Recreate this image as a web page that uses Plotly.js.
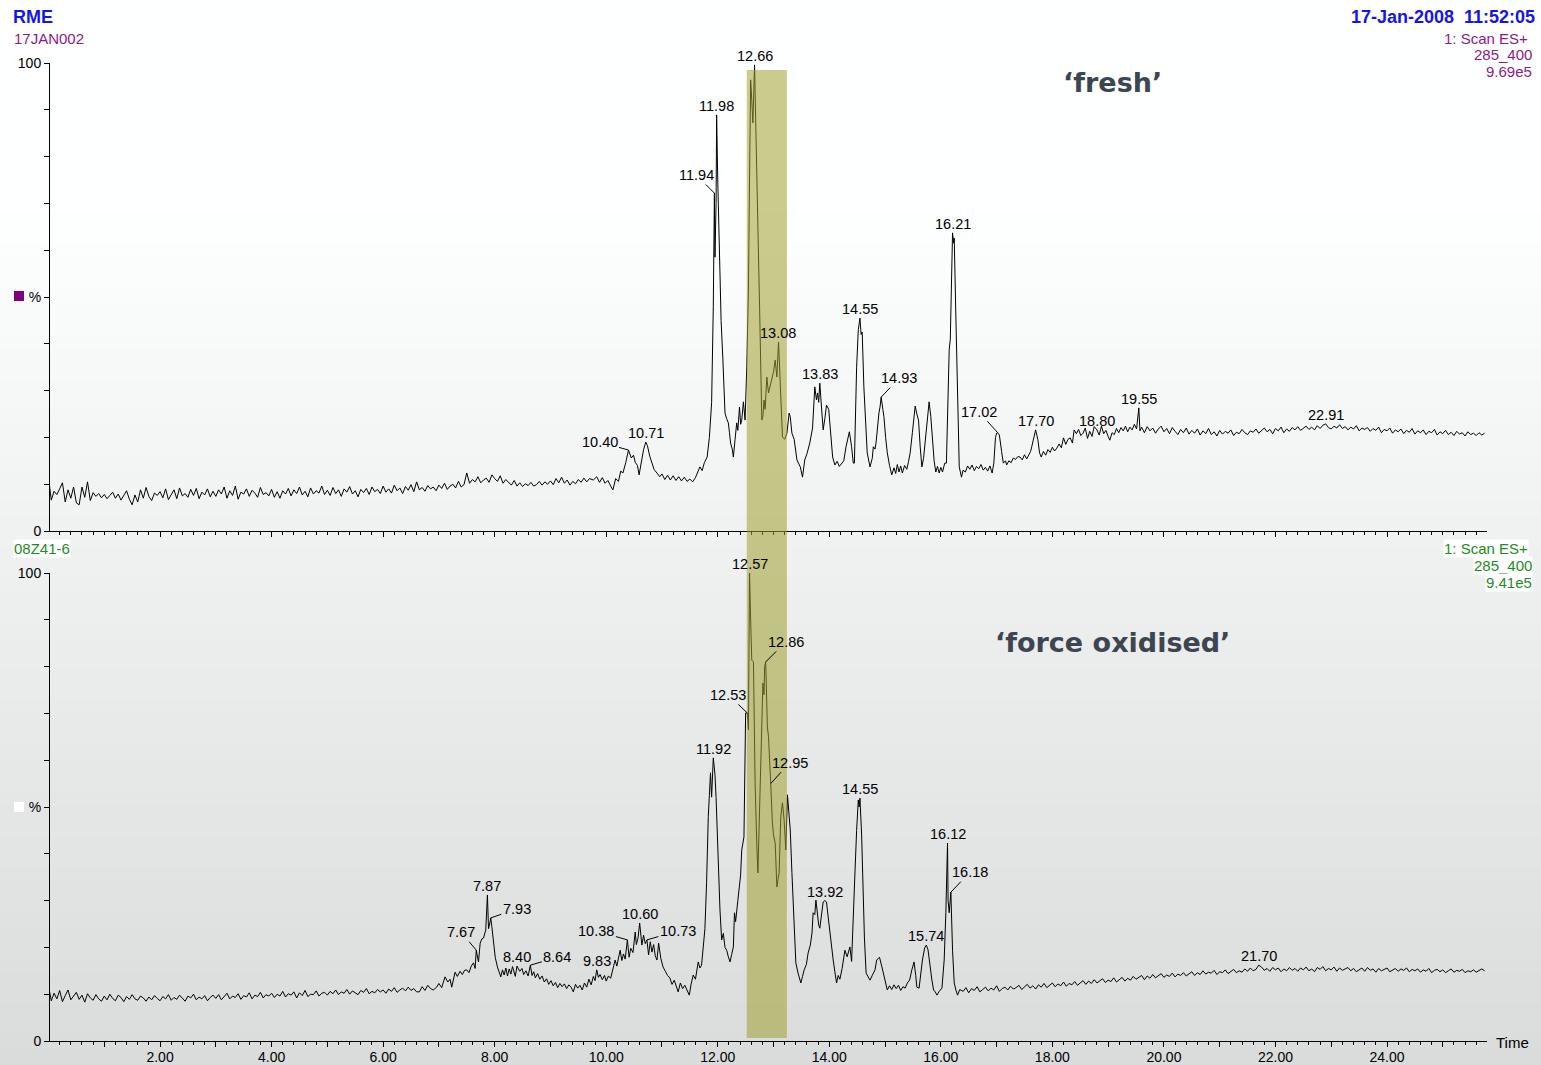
<!DOCTYPE html>
<html><head><meta charset="utf-8">
<script src="https://cdn.plot.ly/plotly-3.0.1.min.js"></script>
<style>html,body{margin:0;padding:0;background:#fff}#chart{width:1541px;height:1065px}</style>
</head><body><div id="chart"></div>
<script>
// ---------------- DATA ----------------
// 'fresh' chromatogram (17JAN002), % intensity
const freshScanStart = 0.00, scanStep = 0.05;
const freshScanA = [
11.5,6.6,8.5,7.8,9.0,10.3,6.2,8.8,7.0,9.4,6.0,5.6,9.4,7.2,10.5,6.5,8.2,7.4,8.0,7.1,
7.8,6.9,7.6,8.3,7.0,7.9,6.6,7.5,8.6,6.8,5.6,7.7,6.2,8.8,7.0,9.3,7.4,6.5,8.1,7.6,
8.4,7.1,9.0,6.7,7.9,8.8,6.9,9.2,7.5,8.0,7.2,8.9,7.6,9.1,6.9,8.3,7.7,9.0,7.3,8.5,
7.4,8.8,7.9,9.4,7.0,8.6,7.6,9.6,6.8,8.3,7.9,9.0,7.4,8.7,8.1,7.2,9.3,7.8,8.2,7.5,
8.9,7.2,8.4,7.0,8.6,7.9,9.1,7.5,8.8,8.0,9.4,7.7,8.5,7.3,9.2,7.9,8.6,8.1,9.6,7.8,
8.7,7.6,9.3,8.0,8.8,7.4,9.0,8.3,9.5,7.9,8.6,7.3,8.9,8.2,9.1,7.8,9.4,8.4,8.9,8.0,
9.6,8.3,9.0,8.1,9.8,8.6,9.2,8.0,9.5,8.7,9.9,8.4,10.5,8.8,9.3,8.5,9.7,9.0,9.4,8.6,
9.8,9.1,10.2,8.9,9.6,10.0,9.2,10.6,9.4,9.9,12.4,10.2,11.0,10.5,11.6,10.3,10.9,11.3,10.4,12.0,
11.2,10.6,11.8,10.2,11.0,10.5,9.8,10.8,9.6,10.3,9.5,10.1,9.7,10.4,9.6,9.9,10.6,9.8,10.5,10.0,
10.7,9.9,11.2,10.3,11.5];
// [time, %] pairs, peak region
const freshPeakPairs = [
9.25,10.2, 9.30,10.9, 9.35,9.8, 9.40,10.6, 9.45,10.1, 9.50,11.0, 9.55,10.4, 9.60,11.3, 9.65,10.5, 9.70,11.2,
9.77,10.9, 9.83,11.6, 9.88,10.4, 9.93,11.4, 9.98,10.2, 10.03,10.8, 10.08,9.6, 10.12,8.8, 10.17,11.2, 10.22,10.6,
10.26,12.8, 10.30,12.4, 10.35,14.6, 10.40,17.3, 10.45,15.6, 10.49,16.2, 10.52,14.7, 10.56,14.0, 10.59,12.0, 10.63,14.8,
10.67,17.4, 10.71,19.0, 10.74,18.2, 10.78,16.0, 10.82,14.5, 10.86,13.1, 10.91,12.4, 10.96,11.6, 11.00,12.2, 11.05,11.0,
11.10,11.9, 11.15,10.9, 11.20,11.8, 11.25,10.8, 11.30,11.6, 11.35,10.7, 11.40,11.5, 11.45,10.6, 11.50,11.1, 11.55,10.5,
11.60,11.4, 11.65,12.8, 11.68,13.7, 11.72,12.9, 11.76,14.6, 11.81,15.8, 11.85,20.0, 11.89,27.4, 11.92,47.9, 11.94,72.2,
11.95,58.5, 11.97,70.0, 11.98,88.9, 12.00,75.0, 12.03,57.9, 12.06,45.0, 12.09,37.2, 12.13,25.2, 12.16,24.0, 12.19,23.1,
12.21,21.0, 12.23,18.8, 12.26,17.5, 12.28,15.8, 12.31,19.5, 12.34,23.1, 12.36,21.5, 12.39,26.5, 12.41,22.8, 12.43,23.7,
12.46,27.6, 12.49,23.7, 12.52,35.0, 12.55,51.5, 12.57,75.0, 12.59,96.4, 12.61,92.0, 12.63,87.2, 12.66,99.6, 12.68,90.0,
12.70,76.5, 12.72,65.0, 12.75,47.9, 12.77,35.0, 12.79,23.7, 12.81,24.5, 12.83,28.0, 12.85,26.0, 12.88,32.9, 12.91,29.5,
12.94,31.0, 12.97,32.3, 13.00,34.0, 13.03,36.5, 13.06,32.9, 13.09,40.4, 13.12,30.0, 13.16,20.1, 13.20,19.6, 13.24,20.9,
13.28,25.2, 13.30,24.4, 13.33,20.9, 13.37,19.6, 13.42,15.2, 13.48,13.7, 13.52,11.5, 13.56,15.2, 13.60,16.5, 13.65,18.8,
13.70,22.0, 13.74,30.8, 13.77,28.0, 13.79,29.5, 13.81,27.5, 13.83,31.6, 13.86,26.5, 13.89,21.6, 13.92,24.0, 13.95,26.9,
13.99,26.0, 14.02,21.0, 14.06,15.8, 14.10,14.1, 14.14,14.9, 14.18,13.8, 14.22,14.5, 14.26,15.0, 14.30,18.0, 14.34,20.5,
14.36,21.2, 14.40,18.0, 14.43,14.5, 14.45,14.5, 14.49,35.0, 14.52,43.0, 14.55,45.5, 14.57,42.0, 14.59,42.5, 14.62,30.8,
14.66,20.0, 14.68,16.7, 14.73,13.7, 14.77,15.5, 14.79,18.0, 14.82,17.5, 14.84,19.0, 14.87,23.0, 14.89,25.2, 14.91,26.5,
14.93,28.6, 14.96,26.0, 14.98,24.4, 15.01,20.0, 15.04,16.7, 15.08,14.0, 15.12,12.0, 15.16,13.5, 15.19,12.3, 15.22,14.2,
15.25,12.6, 15.28,13.9, 15.31,12.4, 15.35,14.0, 15.39,13.2, 15.42,14.8, 15.45,16.7, 15.49,21.0, 15.52,25.5, 15.54,26.7,
15.57,25.0, 15.60,23.7, 15.63,18.0, 15.66,13.7, 15.69,15.5, 15.72,19.4, 15.75,22.0, 15.79,27.6, 15.82,24.5, 15.85,19.4,
15.88,15.0, 15.91,12.6, 15.94,13.8, 15.97,12.4, 16.00,13.6, 16.03,12.6, 16.07,14.5, 16.10,14.5, 16.13,28.0, 16.15,38.7,
16.17,41.0, 16.19,51.5, 16.21,63.7, 16.23,61.5, 16.24,62.6, 16.27,45.7, 16.30,28.0, 16.33,13.7, 16.37,11.5, 16.40,13.0,
16.44,12.6, 16.48,13.9, 16.52,13.2, 16.56,14.1, 16.60,12.9, 16.64,13.8, 16.68,13.3, 16.72,14.2, 16.76,13.0, 16.80,13.6,
16.84,12.8, 16.88,13.9, 16.92,12.4, 16.95,14.5, 16.98,20.0, 17.00,20.9, 17.02,21.0, 17.05,20.5, 17.09,17.0, 17.12,14.5,
17.16,15.0, 17.18,14.1, 17.22,15.0, 17.26,14.6, 17.30,15.6, 17.34,15.3, 17.38,15.9, 17.42,15.8, 17.46,15.2, 17.50,16.3,
17.54,15.4, 17.57,16.0, 17.61,17.0, 17.63,18.0, 17.67,20.0, 17.70,21.6, 17.74,19.5, 17.77,16.7, 17.80,15.8, 17.84,17.0,
17.88,16.2, 17.92,17.4, 17.96,16.8, 18.00,17.9, 18.04,17.1, 18.08,17.7, 18.12,18.6, 18.16,17.8, 18.20,19.9, 18.24,18.5,
18.28,19.6, 18.32,19.9, 18.36,18.8, 18.39,21.6, 18.43,20.8, 18.47,21.7, 18.51,20.4, 18.55,20.9, 18.59,22.0, 18.63,19.8,
18.67,21.3, 18.71,20.2, 18.75,22.3, 18.80,21.6, 18.84,20.5, 18.88,22.4, 18.92,20.8, 18.96,21.5, 19.00,20.2, 19.03,19.4,
19.07,21.0, 19.11,20.6, 19.15,21.9, 19.19,21.0, 19.23,22.1, 19.27,21.4, 19.31,22.4, 19.35,21.2, 19.39,22.2, 19.43,21.6,
19.47,22.8, 19.51,21.8, 19.55,26.3, 19.57,21.4, 19.60,22.2];
const freshScanCStart = 19.65;
const freshScanC = [
21.0,22.3,21.4,22.0,20.9,21.8,22.4,21.2,21.9,20.8,22.1,21.3,20.6,21.7,21.0,22.0,20.7,21.5,20.9,21.8,
20.5,21.4,20.8,21.9,20.6,21.2,20.3,21.5,20.7,21.3,20.9,21.6,20.4,21.1,20.8,21.7,21.0,20.6,21.4,21.1,
21.8,20.9,21.5,22.0,21.2,21.7,20.8,21.9,21.4,22.2,21.0,21.8,21.3,22.1,21.6,22.3,21.5,21.9,22.4,21.7,
22.2,21.6,22.5,21.9,22.6,22.9,22.1,21.8,22.4,22.0,22.7,21.9,22.3,21.6,22.2,21.8,22.5,21.4,22.0,21.7,
22.1,21.3,21.9,21.5,22.2,21.0,21.7,21.4,22.0,20.9,21.6,21.2,21.8,20.8,21.5,21.1,21.9,20.7,21.4,21.0,
21.6,20.6,21.3,21.0,21.7,20.5,21.2,20.8,21.5,20.6,21.1,20.4,21.3,20.7,21.0,20.3,21.2,20.6,20.9,20.4,
21.0,20.5,20.9];

// 'force oxidised' chromatogram (08Z41-6), % intensity
const oxScanA = [
11.8,8.6,10.2,9.0,10.8,8.4,9.7,10.9,8.8,9.5,10.4,8.9,9.8,8.3,10.1,9.2,8.7,9.9,9.0,8.5,
9.6,8.8,10.0,9.1,8.6,9.8,9.3,8.4,9.5,8.9,9.9,9.0,8.7,9.6,9.2,8.5,9.4,8.8,9.7,9.1,
8.6,9.5,9.0,9.9,8.7,9.3,8.9,9.8,9.1,8.5,9.6,9.2,10.0,8.8,9.4,9.0,9.7,8.6,9.3,9.8,
9.1,9.9,8.8,9.5,10.2,9.0,9.6,9.3,10.1,8.9,9.7,9.4,10.3,9.0,9.8,9.5,10.4,9.2,9.9,9.6,
10.2,9.3,10.0,9.6,10.6,9.4,10.1,9.8,10.5,9.2,10.3,9.7,10.8,9.5,10.0,9.9,10.7,9.6,10.2,10.4,
9.8,10.6,10.1,10.9,9.9,10.5,10.2,11.0,10.0,10.7,10.3,9.9,10.8,10.4,11.2,10.1,10.6,10.3,11.0,10.5,
10.9,10.2,11.1,10.6,11.4,10.4,10.9,11.3,10.7,11.5,10.8,11.2,10.5];
const oxPeakPairs = [
6.65,10.5, 6.70,11.6, 6.75,10.8, 6.80,11.9, 6.85,11.2, 6.90,10.9, 6.96,11.5, 7.00,12.3, 7.05,11.4, 7.11,13.7,
7.16,12.6, 7.20,13.2, 7.23,11.5, 7.29,14.7, 7.33,13.8, 7.38,14.9, 7.42,14.2, 7.46,15.1, 7.50,15.2, 7.54,14.6,
7.58,16.0, 7.62,16.7, 7.65,15.5, 7.67,19.4, 7.71,16.9, 7.74,20.9, 7.77,21.8, 7.80,22.0, 7.84,23.7, 7.87,31.2,
7.89,24.0, 7.91,25.0, 7.93,26.3, 7.95,24.4, 7.98,21.0, 8.01,17.9, 8.05,15.8, 8.08,14.8, 8.11,13.7, 8.14,15.2,
8.17,14.1, 8.20,15.6, 8.23,13.9, 8.26,15.4, 8.29,14.3, 8.32,15.9, 8.35,14.6, 8.37,13.8, 8.40,16.0, 8.45,14.9,
8.49,15.5, 8.52,14.2, 8.56,15.0, 8.60,13.9, 8.64,16.2, 8.67,14.0, 8.70,14.8, 8.73,13.5, 8.77,14.4, 8.81,13.2,
8.85,13.9, 8.89,12.6, 8.93,13.3, 8.97,12.1, 9.01,12.9, 9.05,11.8, 9.09,12.5, 9.13,11.4, 9.17,12.3, 9.21,11.6,
9.25,12.2, 9.29,11.2, 9.33,12.0, 9.37,11.5, 9.41,10.5, 9.45,12.1, 9.49,11.3, 9.53,11.9, 9.57,10.9, 9.61,12.4,
9.65,11.5, 9.69,13.2, 9.73,12.0, 9.77,13.8, 9.80,12.9, 9.83,15.2, 9.86,13.6, 9.89,14.2, 9.93,13.1, 9.97,14.0,
10.00,12.8, 10.04,13.9, 10.08,13.4, 10.12,15.5, 10.16,17.3, 10.19,16.0, 10.22,18.0, 10.25,19.4, 10.28,17.2, 10.31,18.6,
10.34,17.5, 10.38,21.6, 10.41,17.9, 10.44,19.8, 10.48,18.9, 10.52,23.3, 10.54,20.6, 10.57,22.0, 10.60,25.2, 10.62,22.0,
10.64,20.5, 10.67,22.6, 10.70,20.8, 10.73,21.6, 10.76,18.4, 10.79,21.2, 10.82,19.0, 10.85,20.6, 10.88,18.2, 10.91,17.3,
10.94,20.9, 10.98,17.6, 11.02,15.8, 11.06,14.9, 11.10,14.0, 11.14,13.5, 11.18,12.1, 11.22,13.0, 11.26,11.4, 11.29,10.5,
11.33,12.4, 11.37,11.2, 11.41,11.9, 11.45,10.8, 11.49,9.8, 11.52,12.0, 11.56,14.1, 11.60,13.2, 11.65,16.9, 11.68,15.6,
11.71,16.2, 11.74,20.1, 11.77,24.0, 11.80,33.8, 11.83,47.9, 11.87,57.3, 11.89,52.1, 11.92,60.5, 11.95,57.0, 11.97,52.0,
12.01,37.2, 12.04,28.0, 12.07,21.6, 12.10,23.0, 12.13,20.0, 12.16,19.4, 12.19,18.0, 12.22,16.9, 12.25,18.5, 12.28,20.1,
12.30,27.4, 12.32,25.5, 12.36,30.0, 12.39,33.8, 12.41,35.5, 12.43,40.8, 12.47,43.6, 12.50,70.1, 12.53,70.1, 12.55,66.5,
12.57,100.0, 12.59,90.0, 12.61,81.4, 12.64,81.0, 12.67,55.1, 12.70,42.0, 12.72,35.9, 12.74,45.0, 12.76,55.0, 12.78,66.0,
12.81,76.5, 12.83,74.0, 12.84,80.0, 12.86,81.0, 12.89,67.1, 12.91,65.0, 12.93,58.0, 12.95,55.0, 12.98,46.6, 13.00,44.0,
13.03,42.3, 13.06,32.9, 13.08,34.5, 13.10,35.9, 13.13,47.9, 13.16,50.9, 13.19,47.2, 13.22,40.8, 13.25,52.6, 13.30,45.1,
13.33,36.0, 13.36,26.5, 13.40,16.7, 13.44,14.5, 13.49,12.4, 13.52,13.8, 13.55,15.2, 13.59,16.4, 13.62,18.8, 13.66,20.5,
13.69,23.1, 13.71,27.4, 13.74,27.0, 13.76,30.1, 13.79,26.5, 13.81,24.8, 13.83,24.1, 13.86,27.0, 13.89,29.7, 13.92,30.0,
13.95,29.7, 13.98,26.5, 14.01,23.1, 14.04,20.0, 14.07,17.3, 14.10,14.8, 14.13,12.4, 14.16,14.0, 14.19,13.2, 14.23,15.5,
14.28,19.4, 14.32,18.0, 14.37,20.1, 14.40,17.0, 14.43,25.0, 14.46,35.9, 14.49,45.0, 14.52,51.5, 14.535,50.0, 14.55,51.9,
14.58,44.0, 14.60,33.8, 14.63,22.0, 14.66,14.5, 14.70,13.8, 14.73,13.0, 14.77,14.0, 14.82,15.2, 14.85,17.3, 14.90,17.9,
14.94,16.0, 14.97,14.5, 15.00,12.5, 15.04,10.9, 15.08,11.8, 15.12,11.0, 15.16,12.0, 15.20,11.2, 15.24,11.9, 15.28,10.8,
15.32,11.6, 15.36,11.3, 15.40,12.4, 15.44,13.0, 15.48,15.2, 15.52,16.9, 15.55,14.0, 15.57,11.5, 15.61,11.3, 15.64,14.5,
15.67,17.3, 15.71,19.9, 15.74,20.5, 15.77,19.5, 15.79,18.0, 15.81,15.8, 15.84,13.0, 15.87,10.9, 15.90,10.5, 15.93,9.8,
15.97,10.6, 16.02,11.3, 16.06,17.3, 16.09,27.4, 16.12,42.3, 16.13,30.0, 16.15,27.4, 16.18,31.8, 16.21,19.4, 16.24,12.4,
16.27,10.9, 16.30,9.8, 16.34,11.0];
const oxScanCStart = 16.40;
const oxScanC = [
10.6,11.4,10.3,11.2,10.8,11.6,10.5,11.0,11.5,10.7,11.3,10.9,11.8,10.6,11.2,11.5,10.9,11.7,11.1,11.4,
11.9,11.0,11.6,12.1,11.3,11.8,11.1,12.0,11.5,12.3,11.4,11.9,12.4,11.6,12.2,11.8,12.6,11.7,12.3,12.0,
12.7,11.9,12.5,12.9,12.1,12.8,12.3,13.1,12.4,12.9,13.3,12.5,13.0,12.7,13.5,12.6,13.2,13.6,12.8,13.4,
13.0,13.8,13.2,13.6,14.0,13.1,13.9,13.4,14.2,13.5,13.9,14.4,13.6,14.1,13.8,14.5,13.7,14.3,14.0,14.6,
13.9,14.4,14.8,14.0,14.6,14.2,15.0,14.3,14.7,14.5,15.1,14.2,14.8,14.6,15.2,14.4,14.9,15.3,14.6,15.0,
14.7,15.4,14.9,15.6,15.0,15.3,16.2,15.8,15.1,15.5,14.9,15.7,15.2,15.6,14.8,15.4,15.0,15.7,15.1,15.5,
14.9,15.6,15.2,15.8,15.0,15.4,14.8,15.7,15.3,15.9,15.0,15.5,15.2,15.8,14.9,15.6,15.1,15.4,15.7,15.0,
15.5,14.8,15.3,15.6,14.9,15.7,15.1,15.4,14.7,15.5,15.0,15.3,15.6,14.8,15.2,15.5,14.9,15.4,15.1,15.6,
14.8,15.3,15.0,15.4,14.7,15.2,14.9,15.5,14.6,15.1,15.3,14.8,15.2,14.6,15.0,15.4,14.7,15.1,14.9,15.3,
14.6,15.0,14.8,15.2,14.7,15.1,15.4,15.0];

// peak labels (retention times)
const freshLabelTimes = [10.40,10.71,11.94,11.98,12.66,13.08,13.83,14.55,14.93,16.21,17.02,17.70,18.80,19.55,22.91];
const oxLabelTimes = [7.67,7.87,7.93,8.40,8.64,9.83,10.38,10.60,10.73,11.92,12.53,12.57,12.86,12.95,13.92,14.55,15.74,16.12,16.18,21.70];
// x-axis tick values and labels
const xTickVals = [1,2,3,4,5,6,7,8,9,10,11,12,13,14,15,16,17,18,19,20,21,22,23,24,25];
const xTickText = ['','2.00','','4.00','','6.00','','8.00','','10.00','','12.00','','14.00','','16.00','','18.00','','20.00','','22.00','','24.00',''];
const yTickVals = [0,50,100];
const yTickText = ['0','%','100'];
const highlightRange = [12.52, 13.24];

// ---------------- BUILD ----------------
function uniform(start, step, vals){const t=[],v=[];vals.forEach((y,i)=>{t.push(+(start+i*step).toFixed(3));v.push(y);});return {t,v};}
function fromPairs(arr){const t=[],v=[];for(let i=0;i<arr.length;i+=2){t.push(arr[i]);v.push(arr[i+1]);}return {t,v};}
function join(parts){return {t:[].concat(...parts.map(p=>p.t)),v:[].concat(...parts.map(p=>p.v))};}
const fresh = join([uniform(freshScanStart,scanStep,freshScanA),fromPairs(freshPeakPairs),uniform(freshScanCStart,scanStep,freshScanC)]);
const ox = join([uniform(freshScanStart,scanStep,oxScanA),fromPairs(oxPeakPairs),uniform(oxScanCStart,scanStep,oxScanC)]);
function nearest(s,t){let bi=0,bd=1e9;s.t.forEach((x,i)=>{const d=Math.abs(x-t);if(d<bd-1e-9){bd=d;bi=i;}});return s.v[bi];}

// ---------------- STYLE ----------------
const FONT = 'Liberation Sans, Arial, sans-serif';
const PL = 50, PR = 1487, PT = 63, PB = 1041, W = 1541, H = 1065;
const px = x => (x-PL)/(PR-PL);
const py = y => (PB-y)/(PB-PT);
const XR = [0.027, 25.793];
const BLUE = '#1414ee', PURPLE = '#8c1a8c', GREEN = '#1e8c1e';

const leaderFresh = {'10.40':[-29,-8],'11.94':[-18,-18],'14.93':[18,-19],'17.02':[-19,-21]};
const leaderOx = {'7.67':[-15,-18],'7.93':[26,-9],'8.64':[27,-8],'10.38':[-31,-9],'10.73':[31,-9],'12.53':[-19,-18],'12.86':[20,-20],'12.95':[19,-21],'16.18':[19,-20]};

const annotations = [];
function peakLabels(times, series, xr, yr, leaders){
  times.forEach(t=>{
    const key = t.toFixed(2), off = leaders[key];
    const a = {xref:xr, yref:yr, x:t, y:nearest(series,t), text:key,
      font:{family:FONT,size:14.5,color:'#000'}};
    if(off){Object.assign(a,{showarrow:true,arrowhead:0,arrowwidth:1,arrowcolor:'#000',ax:off[0],ay:off[1],standoff:0,startstandoff:0});}
    else{Object.assign(a,{showarrow:false,yanchor:'bottom',yshift:-1});}
    annotations.push(a);
  });
}
peakLabels(freshLabelTimes, fresh, 'x', 'y', leaderFresh);
peakLabels(oxLabelTimes, ox, 'x2', 'y2', leaderOx);

function txt(text, x, y, xanchor, size, color, bold, bg){
  annotations.push({xref:'paper',yref:'paper',x:px(x),y:py(y),xanchor:xanchor,yanchor:'middle',showarrow:false,
    text: bold?'<b>'+text+'</b>':text, font:{family:FONT,size:size,color:color}, bgcolor:bg||'rgba(0,0,0,0)', borderpad:0});
}
txt('RME', 12, 17, 'left', 18, BLUE, true);
txt('17JAN002', 13, 38, 'left', 15, PURPLE);
txt('17-Jan-2008\u00a0\u00a011:52:05', 1536, 17, 'right', 18, BLUE, true);
txt('1: Scan ES+', 1529, 38, 'right', 15, PURPLE);
txt('285_400', 1533, 55, 'right', 15, PURPLE);
txt('9.69e5', 1533, 72, 'right', 15, PURPLE);
txt('08Z41-6', 13, 548, 'left', 15, GREEN, false, '#ffffff');
txt('1: Scan ES+', 1529, 548, 'right', 15, GREEN, false, '#ffffff');
txt('285_400', 1533, 565, 'right', 15, GREEN, false, '#ffffff');
txt('9.41e5', 1533, 582, 'right', 15, GREEN, false, '#ffffff');
txt('Time', 1495, 1042, 'left', 15, '#000');
annotations.push({xref:'paper',yref:'paper',x:px(1112),y:py(83),xanchor:'center',yanchor:'middle',showarrow:false,
  text:'<b>\u2018fresh\u2019</b>',font:{family:'DejaVu Sans, Verdana, sans-serif',size:27,color:'#3c4650'}});
annotations.push({xref:'paper',yref:'paper',x:px(1112),y:py(642),xanchor:'center',yanchor:'middle',showarrow:false,
  text:'<b>\u2018force oxidised\u2019</b>',font:{family:'DejaVu Sans, Verdana, sans-serif',size:27,color:'#3c4650'}});

// background gradient bands
const shapes = [];
const NB = 70;
for(let i=0;i<NB;i++){
  const y0 = i*H/NB, y1 = (i+1)*H/NB, ym = (y0+y1)/2;
  const f = Math.max(0,(ym-200)/(H-200));
  const g = Math.round(255 - 36*f);
  shapes.push({type:'rect',xref:'paper',yref:'paper',layer:'below',x0:px(-2),x1:px(W+2),y0:py(y1+0.5),y1:py(y0-0.5),
    line:{width:0},fillcolor:`rgb(${g-1},${g},${g})`});
}
// highlighted retention window
shapes.push({type:'rect',xref:'x',yref:'paper',layer:'above',x0:highlightRange[0],x1:highlightRange[1],y0:py(1038),y1:py(70),
  line:{width:0},fillcolor:'rgba(158,160,48,0.55)'});
// legend squares beside %
shapes.push({type:'rect',xref:'paper',yref:'paper',layer:'above',x0:px(14),x1:px(24),y0:py(301),y1:py(291),line:{width:0},fillcolor:'#800080'});
shapes.push({type:'rect',xref:'paper',yref:'paper',layer:'above',x0:px(14),x1:px(24),y0:py(812),y1:py(802),line:{width:0},fillcolor:'#ffffff'});

const lineStyle = {color:'#000',width:1};
const traces = [
  {type:'scatter',mode:'lines',x:fresh.t,y:fresh.v,xaxis:'x',yaxis:'y',line:lineStyle,hoverinfo:'skip'},
  {type:'scatter',mode:'lines',x:ox.t,y:ox.v,xaxis:'x2',yaxis:'y2',line:lineStyle,hoverinfo:'skip'}
];
const xBase = {range:XR,showgrid:false,zeroline:false,showline:true,linecolor:'#000',linewidth:1,
  ticks:'outside',tickmode:'array',tickvals:xTickVals,ticktext:xTickText,ticklen:5,tickcolor:'#000',tickwidth:1,
  minor:{dtick:0.2,tick0:0,ticks:'outside',ticklen:3,tickcolor:'#000',tickwidth:1},
  tickfont:{family:FONT,size:14,color:'#000'},fixedrange:true};
const yBase = {range:[0,100],showgrid:false,zeroline:false,showline:true,linecolor:'#000',linewidth:1,
  ticks:'outside',tickmode:'array',tickvals:yTickVals,ticktext:yTickText,ticklen:5,tickcolor:'#000',tickwidth:1,
  minor:{dtick:10,tick0:0,ticks:'outside',ticklen:5,tickcolor:'#000',tickwidth:1},
  tickfont:{family:FONT,size:14,color:'#000'},fixedrange:true};
const layout = {
  width:W,height:H,margin:{l:PL,r:W-PR,t:PT,b:H-PB,pad:0},
  paper_bgcolor:'#ffffff',plot_bgcolor:'rgba(0,0,0,0)',showlegend:false,
  xaxis:Object.assign({},xBase,{anchor:'y',showticklabels:false}),
  yaxis:Object.assign({},yBase,{domain:[py(531),1],anchor:'x'}),
  xaxis2:Object.assign({},xBase,{anchor:'y2',showticklabels:true,ticklabelstandoff:-2}),
  yaxis2:Object.assign({},yBase,{domain:[0,py(573)],anchor:'x2'}),
  shapes:shapes,annotations:annotations
};
Plotly.newPlot('chart',traces,layout,{displayModeBar:false,staticPlot:true});
</script></body></html>
